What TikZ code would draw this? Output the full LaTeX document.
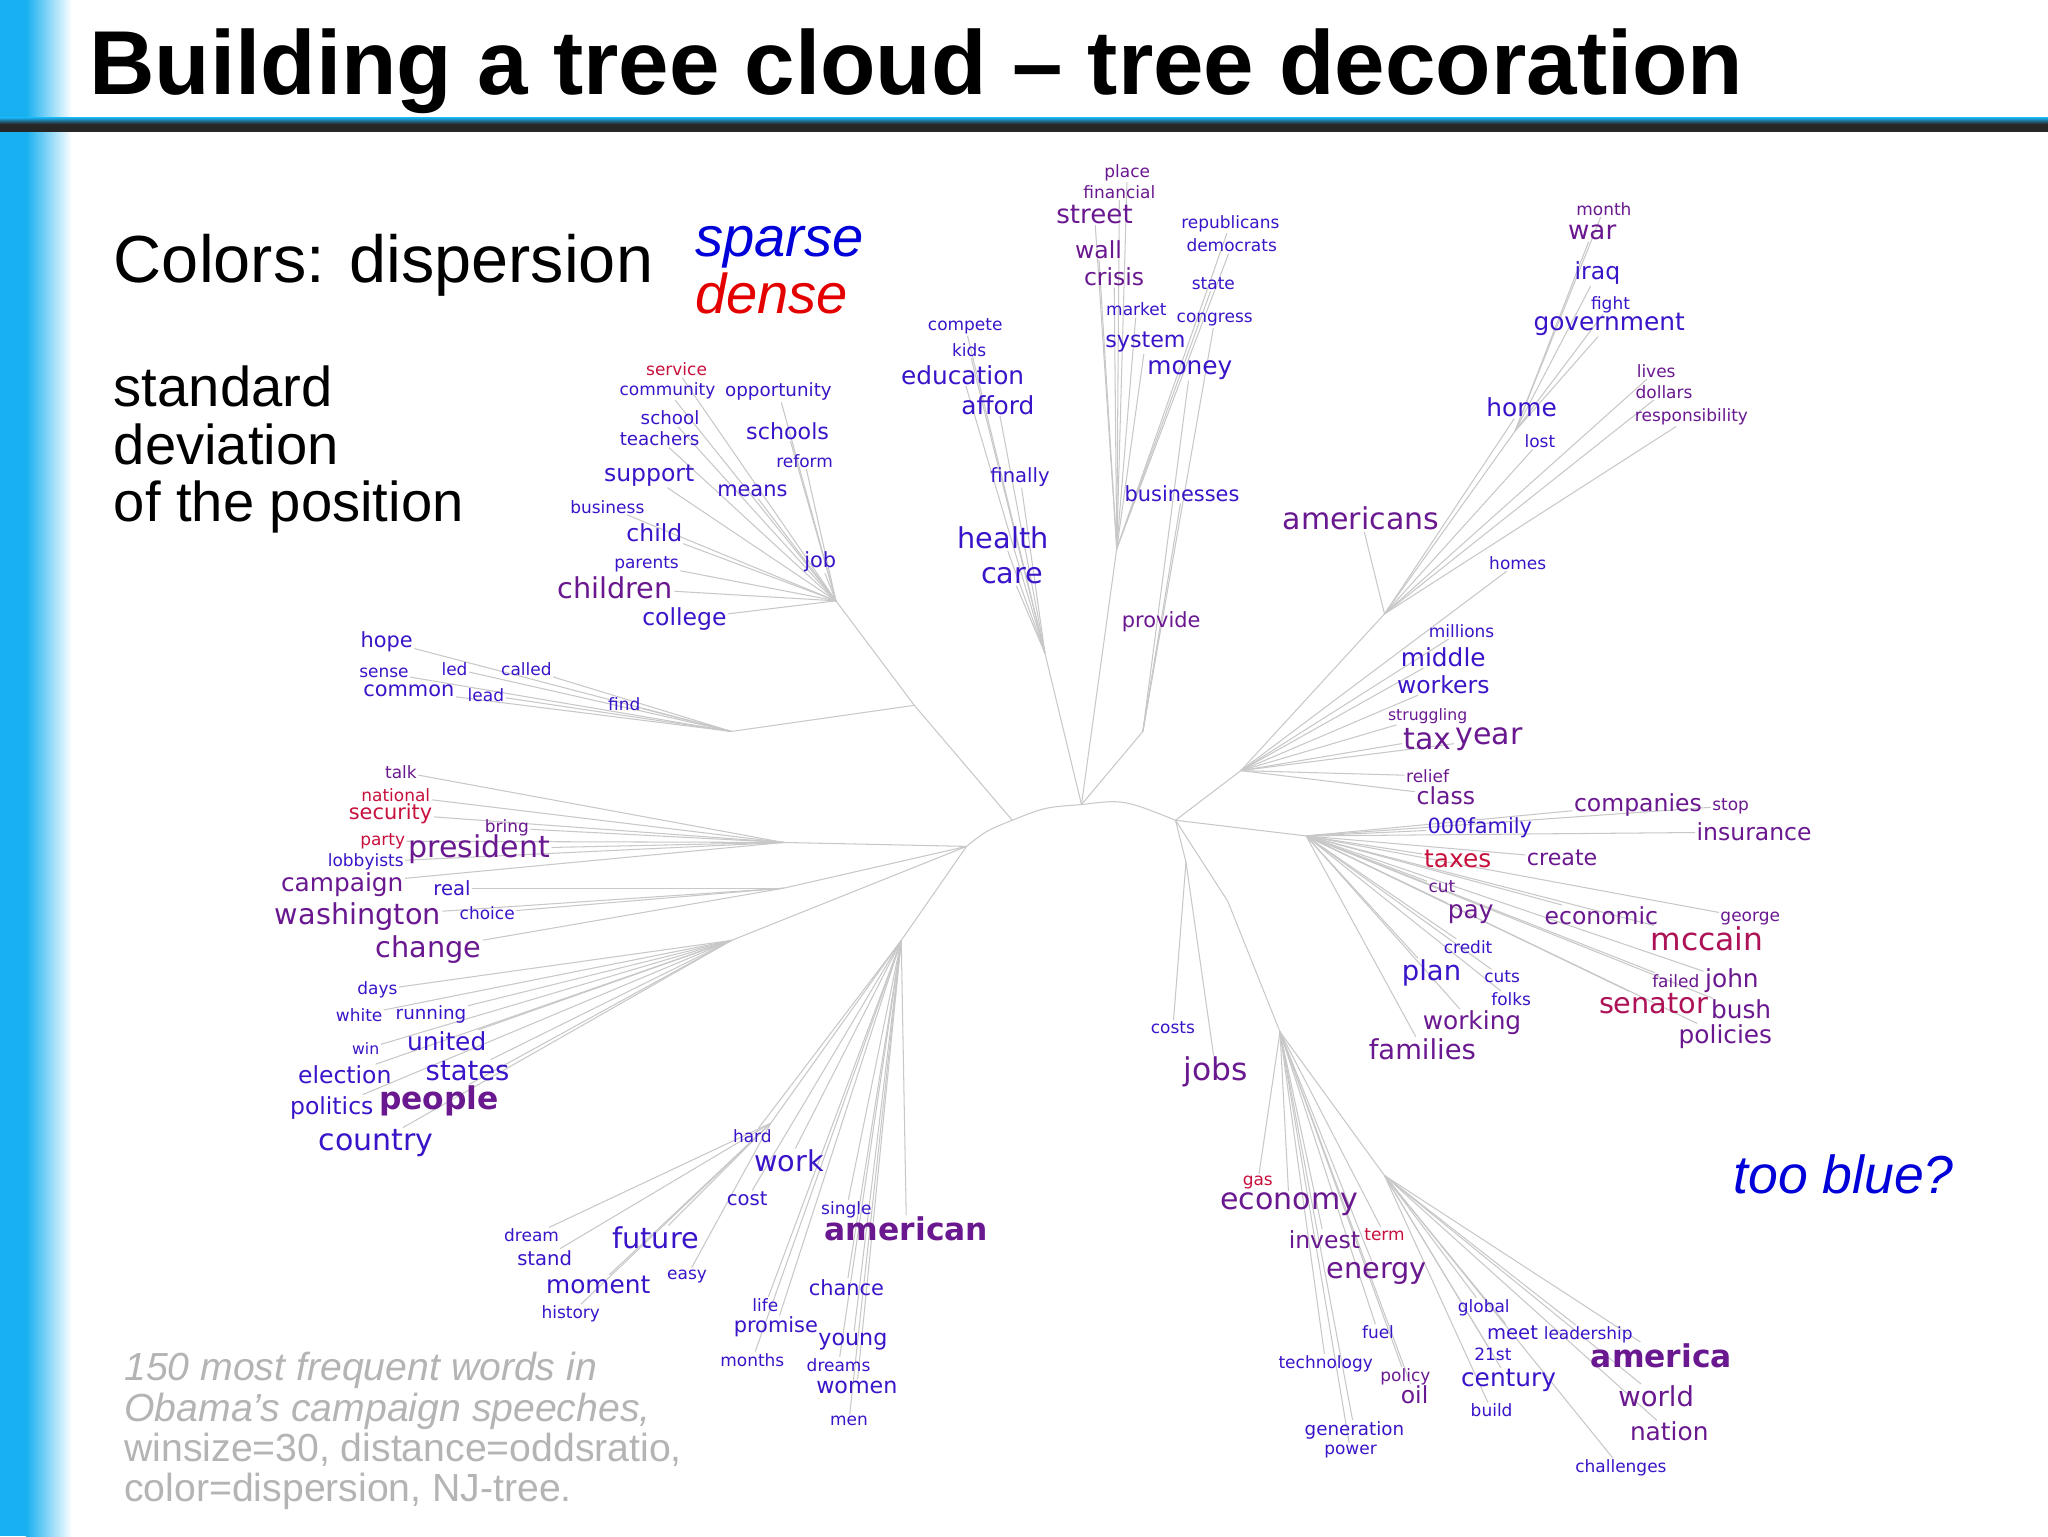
\documentclass[tikz,border=0pt]{standalone}
\usepackage{fontspec}
\setmainfont{Liberation Sans}
\newfontfamily\wfont{DejaVu Sans}
\definecolor{cB}{HTML}{3A14C8}
\definecolor{cP}{HTML}{6A1890}
\definecolor{cR}{HTML}{C8103C}
\definecolor{edgegray}{HTML}{C8C8C8}
\definecolor{barblue}{HTML}{18B0F0}
\definecolor{footgray}{HTML}{B4B4B4}
\pgfdeclarelayer{bg}
\pgfsetlayers{bg,main}
\newcommand\tw[6]{\node[wdst,font=\wfont\fontsize{#4}{#4}\selectfont,text=#5] (#1) at (#2,#3) {#6};}
\tikzset{wdst/.style={inner sep=1pt,anchor=center},edge/.style={draw=edgegray,line width=0.8pt},
  bigw/.style={wdst,font=\wfont\bfseries\fontsize{24}{24}\selectfont,text=cP}}
\begin{document}
\begin{tikzpicture}[x=1pt,y=-1pt]
\useasboundingbox (0,0) rectangle (1568,1176);
\begin{pgfonlayer}{bg}
\fill[white] (0,0) rectangle (1568,1176);
\fill[barblue] (0,0) rectangle (20,1176);
\shade[left color=barblue,right color=white] (20,0) rectangle (55,1176);
\end{pgfonlayer}
\fill[black!85] (0,93) rectangle (1568,101);
\shade[top color=barblue,bottom color=black!85] (0,90) rectangle (1568,95);
\node[anchor=base west,font=\bfseries\fontsize{69.5}{70}\selectfont,inner sep=0] (title) at (68,72) {Building a tree cloud -- tree decoration};
\node[anchor=base west,font=\fontsize{51}{51}\selectfont,inner sep=0] (colors) at (87,216) {Colors: dispersion};
\node[anchor=base west,font=\itshape\fontsize{43}{43}\selectfont,text=blue!85!black,inner sep=0] (sparse) at (532,196) {sparse};
\node[anchor=base west,font=\itshape\fontsize{43}{43}\selectfont,text=red!90!black,inner sep=0] (dense) at (532,240) {dense};
\node[anchor=north west,align=left,font=\fontsize{43}{44}\selectfont,inner sep=0] (std) at (87,280) {standard\\deviation\\of the position};
\node[anchor=base west,font=\itshape\fontsize{41}{41}\selectfont,text=blue!85!black,inner sep=0] (tooblue) at (1327,914) {too blue?};
\node[anchor=north west,align=left,font=\fontsize{30}{31}\selectfont,text=footgray,inner sep=0] (foot) at (95,1035) {\itshape 150 most frequent words in\\\itshape Obama's campaign speeches,\\winsize=30, distance=oddsratio,\\color=dispersion, NJ-tree.};
% words
\tw{place}{863}{132}{13}{cP}{place}
\tw{financial}{857}{147}{13}{cP}{financial}
\tw{street}{838}{164}{20}{cP}{street}
\tw{wall}{841}{191}{18}{cP}{wall}
\tw{crisis}{853}{212}{18}{cP}{crisis}
\tw{republicans}{942}{171}{13}{cB}{republicans}
\tw{democrats}{943}{188}{13}{cB}{democrats}
\tw{state}{929}{217}{13}{cB}{state}
\tw{market}{870}{237}{13}{cB}{market}
\tw{congress}{930}{245}{13}{cB}{congress}
\tw{system}{877}{262}{17}{cB}{system}
\tw{money}{911}{283}{19}{cB}{money}
\tw{compete}{739}{250}{13}{cB}{compete}
\tw{kids}{742}{268}{13}{cB}{kids}
\tw{education}{737}{287}{19}{cB}{education}
\tw{afford}{764}{310}{19}{cB}{afford}
\tw{finally}{781}{365}{15}{cB}{finally}
\tw{businesses}{905}{378}{16}{cB}{businesses}
\tw{health}{768}{412}{22}{cB}{health}
\tw{care}{775}{441}{22}{cB}{care}
\tw{provide}{889}{476}{16}{cP}{provide}
\tw{service}{518}{283}{13}{cR}{service}
\tw{community}{511}{299}{13}{cB}{community}
\tw{opportunity}{596}{300}{14}{cB}{opportunity}
\tw{school}{513}{320}{14}{cB}{school}
\tw{teachers}{505}{336}{14}{cB}{teachers}
\tw{schools}{603}{330}{17}{cB}{schools}
\tw{reform}{616}{353}{13}{cB}{reform}
\tw{support}{497}{364}{18}{cB}{support}
\tw{means}{576}{376}{16}{cB}{means}
\tw{business}{465}{388}{13}{cB}{business}
\tw{child}{501}{408}{18}{cB}{child}
\tw{parents}{495}{432}{13}{cB}{parents}
\tw{job}{628}{430}{16}{cB}{job}
\tw{children}{471}{450}{22}{cP}{children}
\tw{college}{524}{474}{18}{cB}{college}
\tw{hope}{296}{491}{16}{cB}{hope}
\tw{sense}{294}{515}{13}{cB}{sense}
\tw{led}{348}{512}{13}{cB}{led}
\tw{called}{403}{512}{13}{cB}{called}
\tw{common}{313}{529}{16}{cB}{common}
\tw{lead}{372}{532}{13}{cB}{lead}
\tw{find}{478}{539}{13}{cB}{find}
\tw{talk}{307}{591}{13}{cP}{talk}
\tw{national}{303}{609}{13}{cR}{national}
\tw{security}{299}{623}{16}{cR}{security}
\tw{party}{293}{644}{13}{cR}{party}
\tw{bring}{388}{634}{13}{cP}{bring}
\tw{president}{367}{650}{23}{cP}{president}
\tw{lobbyists}{280}{660}{13}{cB}{lobbyists}
\tw{campaign}{262}{677}{19}{cP}{campaign}
\tw{real}{346}{680}{15}{cB}{real}
\tw{washington}{274}{702}{22}{cP}{washington}
\tw{choice}{373}{699}{13}{cB}{choice}
\tw{change}{328}{727}{22}{cP}{change}
\tw{days}{289}{758}{13}{cB}{days}
\tw{white}{275}{777}{13}{cB}{white}
\tw{running}{330}{777}{14}{cB}{running}
\tw{united}{342}{797}{19}{cB}{united}
\tw{win}{280}{803}{12}{cB}{win}
\tw{election}{264}{823}{18}{cB}{election}
\tw{states}{358}{820}{21}{cB}{states}
\tw{politics}{254}{848}{18}{cB}{politics}
\node[bigw] (people) at (336,843) {people};
\tw{country}{288}{875}{23}{cB}{country}
\tw{hard}{576}{870}{13}{cB}{hard}
\tw{work}{604}{889}{22}{cB}{work}
\tw{cost}{572}{918}{15}{cB}{cost}
\tw{single}{648}{926}{13}{cB}{single}
\node[bigw] (american) at (694,941) {american};
\tw{dream}{407}{946}{13}{cB}{dream}
\tw{future}{502}{948}{22}{cB}{future}
\tw{stand}{417}{963}{15}{cB}{stand}
\tw{moment}{458}{984}{19}{cB}{moment}
\tw{easy}{526}{977}{13}{cB}{easy}
\tw{history}{437}{1006}{13}{cB}{history}
\tw{chance}{648}{986}{16}{cB}{chance}
\tw{life}{586}{999}{13}{cB}{life}
\tw{promise}{594}{1016}{16}{cB}{promise}
\tw{young}{653}{1027}{17}{cB}{young}
\tw{months}{576}{1041}{13}{cB}{months}
\tw{dreams}{642}{1045}{13}{cB}{dreams}
\tw{women}{656}{1062}{17}{cB}{women}
\tw{men}{650}{1088}{13}{cB}{men}
\tw{month}{1228}{160}{13}{cP}{month}
\tw{war}{1219}{178}{20}{cP}{war}
\tw{iraq}{1223}{209}{18}{cB}{iraq}
\tw{fight}{1233}{233}{13}{cB}{fight}
\tw{government}{1232}{248}{19}{cB}{government}
\tw{lives}{1268}{284}{13}{cP}{lives}
\tw{dollars}{1274}{300}{13}{cP}{dollars}
\tw{responsibility}{1295}{319}{13}{cP}{responsibility}
\tw{home}{1165}{312}{19}{cB}{home}
\tw{lost}{1179}{338}{13}{cB}{lost}
\tw{americans}{1042}{397}{23}{cP}{americans}
\tw{homes}{1162}{431}{13}{cB}{homes}
\tw{millions}{1119}{483}{13}{cB}{millions}
\tw{middle}{1105}{503}{19}{cB}{middle}
\tw{workers}{1105}{524}{18}{cB}{workers}
\tw{struggling}{1093}{548}{12}{cP}{struggling}
\tw{tax}{1093}{566}{23}{cP}{tax}
\tw{year}{1140}{566}{23}{cP}{year}
\tw{relief}{1093}{594}{13}{cP}{relief}
\tw{class}{1107}{609}{18}{cP}{class}
\tw{companies}{1254}{616}{18}{cP}{companies}
\tw{stop}{1325}{617}{13}{cP}{stop}
\tw{insurance}{1343}{637}{18}{cP}{insurance}
\tw{family}{1133}{634}{16}{cB}{000family}
\tw{taxes}{1116}{658}{19}{cR}{taxes}
\tw{create}{1196}{657}{17}{cP}{create}
\tw{cut}{1104}{679}{13}{cP}{cut}
\tw{pay}{1126}{700}{19}{cP}{pay}
\tw{economic}{1226}{701}{18}{cP}{economic}
\tw{george}{1340}{703}{13}{cP}{george}
\tw{mccain}{1307}{719}{24}{cR!70!cP}{mccain}
\tw{credit}{1124}{725}{13}{cB}{credit}
\tw{plan}{1096}{745}{21}{cB}{plan}
\tw{cuts}{1150}{748}{13}{cB}{cuts}
\tw{folks}{1157}{765}{13}{cB}{folks}
\tw{failed}{1283}{751}{13}{cP}{failed}
\tw{john}{1326}{751}{19}{cP}{john}
\tw{senator}{1266}{768}{22}{cR!70!cP}{senator}
\tw{bush}{1333}{773}{19}{cP}{bush}
\tw{working}{1127}{783}{19}{cP}{working}
\tw{families}{1089}{803}{21}{cP}{families}
\tw{policies}{1321}{794}{19}{cP}{policies}
\tw{costs}{898}{787}{13}{cB}{costs}
\tw{jobs}{931}{821}{24}{cP}{jobs}
\tw{gas}{963}{905}{13}{cR}{gas}
\tw{economy}{987}{922}{23}{cP}{economy}
\tw{invest}{1014}{949}{18}{cP}{invest}
\tw{term}{1060}{945}{13}{cR}{term}
\tw{energy}{1054}{975}{22}{cP}{energy}
\tw{global}{1136}{1001}{13}{cB}{global}
\tw{fuel}{1055}{1020}{13}{cB}{fuel}
\tw{meet}{1158}{1020}{15}{cB}{meet}
\tw{leadership}{1216}{1022}{13}{cB}{leadership}
\tw{21st}{1143}{1037}{13}{cB}{21st}
\node[bigw] (america) at (1272,1038) {america};
\tw{technology}{1015}{1044}{13}{cB}{technology}
\tw{policy}{1076}{1054}{13}{cP}{policy}
\tw{century}{1155}{1057}{19}{cB}{century}
\tw{oil}{1083}{1068}{18}{cP}{oil}
\tw{world}{1268}{1069}{21}{cP}{world}
\tw{build}{1142}{1080}{13}{cB}{build}
\tw{generation}{1037}{1095}{14}{cB}{generation}
\tw{nation}{1278}{1096}{19}{cP}{nation}
\tw{power}{1034}{1111}{13}{cB}{power}
\tw{challenges}{1241}{1124}{13}{cB}{challenges}
% hubs
\coordinate (L0) at (740,648);
\coordinate (L1) at (600,645);
\coordinate (L2) at (600,680);
\coordinate (L3) at (560,720);
\coordinate (U0) at (775,628);
\coordinate (U1) at (700,540);
\coordinate (U2) at (640,460);
\coordinate (U3) at (560,560);
\coordinate (C0) at (828,616);
\coordinate (C1) at (800,500);
\coordinate (C2) at (855,420);
\coordinate (C3) at (875,560);
\coordinate (R0) at (900,628);
\coordinate (R1) at (950,590);
\coordinate (R3) at (1060,470);
\coordinate (R4) at (1160,330);
\coordinate (R2) at (1000,640);
\coordinate (D0) at (908,660);
\coordinate (D1) at (940,690);
\coordinate (D2) at (980,790);
\coordinate (D3) at (1060,900);
\coordinate (B1) at (690,720);
\coordinate (B2) at (590,860);
\begin{pgfonlayer}{bg}
\draw[edge] (L0) .. controls (755,636) .. (U0) .. controls (800,618) .. (C0) .. controls (860,612) .. (R0);
\foreach \a/\b in {L0/L1,L0/L2,L0/L3,L0/B1,B1/B2,U0/U1,U1/U2,U1/U3,C0/C1,C0/C2,C0/C3,R0/R1,R1/R3,R3/R4,R0/R2,R0/D0,R0/D1,D1/D2,D2/D3}
  \draw[edge] (\a) -- (\b);
\foreach \h/\t in {L1/talk,L1/national,L1/security,L1/party,L1/bring,L1/president,L1/lobbyists,L1/campaign,
  L2/real,L2/washington,L2/choice,L2/change,
  L3/days,L3/white,L3/running,L3/united,L3/win,L3/election,L3/states,L3/politics,L3/people,L3/country,
  U2/service,U2/community,U2/opportunity,U2/school,U2/teachers,U2/schools,U2/reform,U2/support,U2/means,U2/business,U2/child,U2/parents,U2/job,U2/children,U2/college,
  U3/hope,U3/sense,U3/led,U3/called,U3/common,U3/lead,U3/find,
  C1/health,C1/care,C1/finally,C1/afford,C1/compete,C1/kids,C1/education,
  C2/place,C2/financial,C2/street,C2/wall,C2/crisis,C2/republicans,C2/democrats,C2/state,C2/market,C2/system,
  C3/provide,C3/businesses,C3/money,C3/congress,
  R1/millions,R1/middle,R1/workers,R1/struggling,R1/tax,R1/year,R1/relief,R1/class,R1/homes,
  R3/americans,R3/home,R3/lost,R3/lives,R3/dollars,R3/responsibility,
  R4/month,R4/war,R4/iraq,R4/fight,R4/government,
  R2/family,R2/companies,R2/stop,R2/insurance,R2/taxes,R2/create,R2/cut,R2/pay,R2/economic,R2/george,R2/mccain,R2/credit,R2/plan,R2/cuts,R2/folks,R2/failed,R2/john,R2/senator,R2/bush,R2/working,R2/families,R2/policies,
  D0/costs,D0/jobs,
  D2/gas,D2/economy,D2/invest,D2/term,D2/energy,D2/fuel,D2/technology,D2/policy,D2/oil,D2/generation,D2/power,
  D3/global,D3/meet,D3/leadership,D3/21st,D3/america,D3/century,D3/world,D3/build,D3/nation,D3/challenges,
  B1/hard,B1/work,B1/cost,B1/single,B1/american,B1/chance,B1/life,B1/promise,B1/young,B1/months,B1/dreams,B1/women,B1/men,
  B2/dream,B2/future,B2/stand,B2/moment,B2/easy,B2/history}
  \draw[edge] (\h) -- (\t);
\end{pgfonlayer}
\end{tikzpicture}
\end{document}
